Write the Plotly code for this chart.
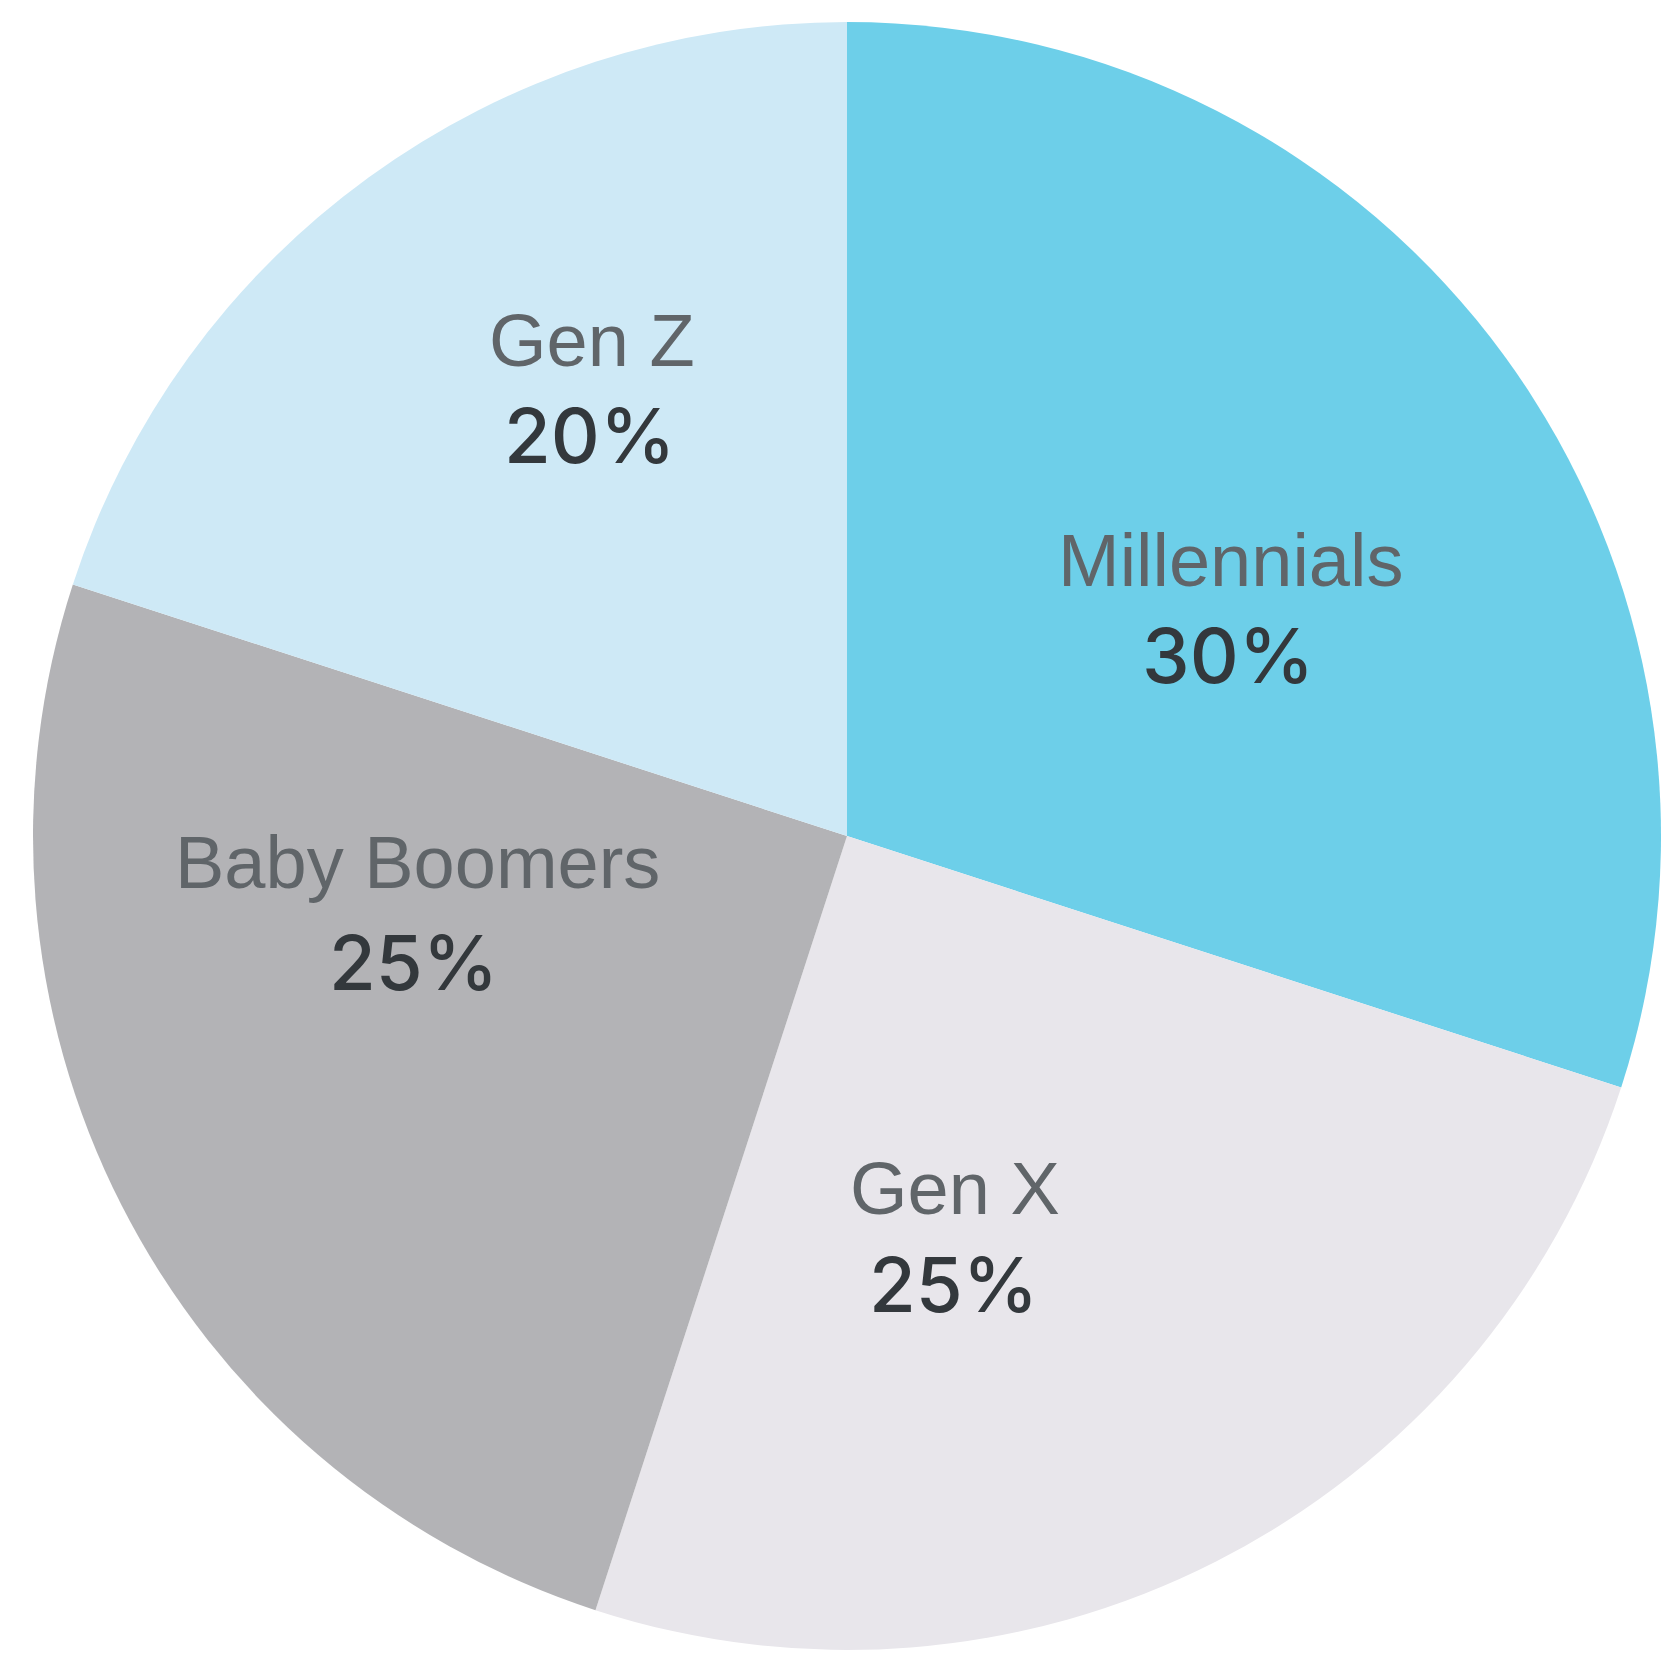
import plotly.graph_objects as go

# Share of each generation
generations = ["Millennials", "Gen X", "Baby Boomers", "Gen Z"]
shares = [30, 25, 25, 20]
slice_colors = ["#6DCFE9", "#E8E6EB", "#B3B3B6", "#CEE9F6"]

# Label centres in page pixels (name line, value line)
label_centers = {
    "Millennials": (1230, 560, 1228, 655),
    "Gen X": (955, 1188, 953, 1284),
    "Baby Boomers": (417, 862, 413, 962),
    "Gen Z": (592, 340, 589, 435),
}

W, H = 1661, 1656
M_L, M_R, M_T, M_B = 33, 0, 22, 6


def to_paper(px, py):
    return ((px - M_L) / (W - M_L - M_R), 1 - (py - M_T) / (H - M_T - M_B))


fig = go.Figure(
    go.Pie(
        labels=generations,
        values=shares,
        sort=False,
        direction="clockwise",
        rotation=0,
        marker=dict(colors=slice_colors, line=dict(width=0)),
        textinfo="none",
        hoverinfo="label+percent",
        showlegend=False,
        domain=dict(x=[0, 1], y=[0, 1]),
    )
)

annotations = []
for name, value in zip(generations, shares):
    nx, ny, vx, vy = label_centers[name]
    x, y = to_paper(nx, ny)
    annotations.append(dict(
        x=x, y=y, xref="paper", yref="paper", xanchor="center", yanchor="middle",
        text=name, showarrow=False,
        font=dict(family="Liberation Sans, Arial, sans-serif", size=74, color="#606569", weight=300),
    ))
    x, y = to_paper(vx, vy)
    annotations.append(dict(
        x=x, y=y, xref="paper", yref="paper", xanchor="center", yanchor="middle",
        text=f"{value}%", showarrow=False,
        font=dict(family="Inter, Roboto, Liberation Sans", size=76, color="#33383C", weight=500),
    ))

fig.update_layout(
    width=W,
    height=H,
    margin=dict(l=M_L, r=M_R, t=M_T, b=M_B, pad=0),
    paper_bgcolor="white",
    plot_bgcolor="white",
    annotations=annotations,
)

fig.write_html("out.html")
